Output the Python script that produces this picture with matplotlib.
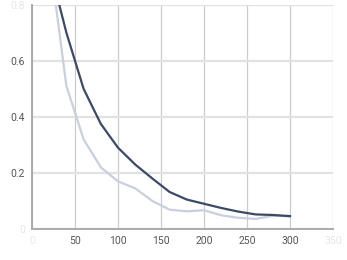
import matplotlib

matplotlib.use("Agg")
import matplotlib.pyplot as plt

# data
x = [20, 40, 60, 80, 100, 120, 140, 160, 180, 200, 220, 240, 260, 280, 300]
dark = [0.94, 0.70, 0.50, 0.375, 0.29, 0.23, 0.18, 0.132, 0.105, 0.09, 0.075,
        0.062, 0.052, 0.05, 0.046]
light = [0.98, 0.51, 0.32, 0.22, 0.17, 0.145, 0.10, 0.069, 0.063, 0.067, 0.049,
         0.04, 0.036, 0.047, 0.045]
xticks = [0, 50, 100, 150, 200, 250, 300, 350]
yticks = [0, 0.2, 0.4, 0.6, 0.8]
ytick_labels = ["0", "0.2", "0.4", "0.6", "0.8"]

DARK = "#3b4a66"
LIGHT = "#c9cfdf"
TXT = "#555555"
FADE = "#e6e6e6"

plt.rcParams["font.family"] = ["Roboto", "DejaVu Sans"]

fig = plt.figure(figsize=(3.47, 2.6), dpi=100)
ax = fig.add_axes([32 / 347, 1 - 229 / 260, 301 / 347, 224.3 / 260])

ax.plot(x, light, color=LIGHT, lw=1.6, zorder=3, clip_on=True)
ax.plot(x, dark, color=DARK, lw=1.6, zorder=4, clip_on=True)

ax.set_xlim(0, 350)
ax.set_ylim(0, 0.8)
ax.set_xticks(xticks)
ax.set_yticks(yticks)
ax.set_xticklabels([str(v) for v in xticks])
ax.set_yticklabels(ytick_labels)

ax.set_axisbelow(True)
ax.xaxis.grid(True, color="#cccccc", lw=0.9)
ax.yaxis.grid(True, color="#e2e2e2", lw=1.6)
ax.tick_params(length=0, labelsize=7.5, labelcolor=TXT)
ax.tick_params(axis="x", pad=5)
ax.tick_params(axis="y", pad=5)

for s in ("top", "right"):
    ax.spines[s].set_visible(False)
ax.spines["left"].set_color("#aaaaaa")
ax.spines["left"].set_linewidth(1.4)
ax.spines["bottom"].set_color("#aaaaaa")
ax.spines["bottom"].set_linewidth(1.4)

# end labels are faded in the original
for lab in (ax.get_xticklabels()[0], ax.get_xticklabels()[-1],
            ax.get_yticklabels()[0], ax.get_yticklabels()[-1]):
    lab.set_color(FADE)

fig.savefig("out.png", dpi=100)
